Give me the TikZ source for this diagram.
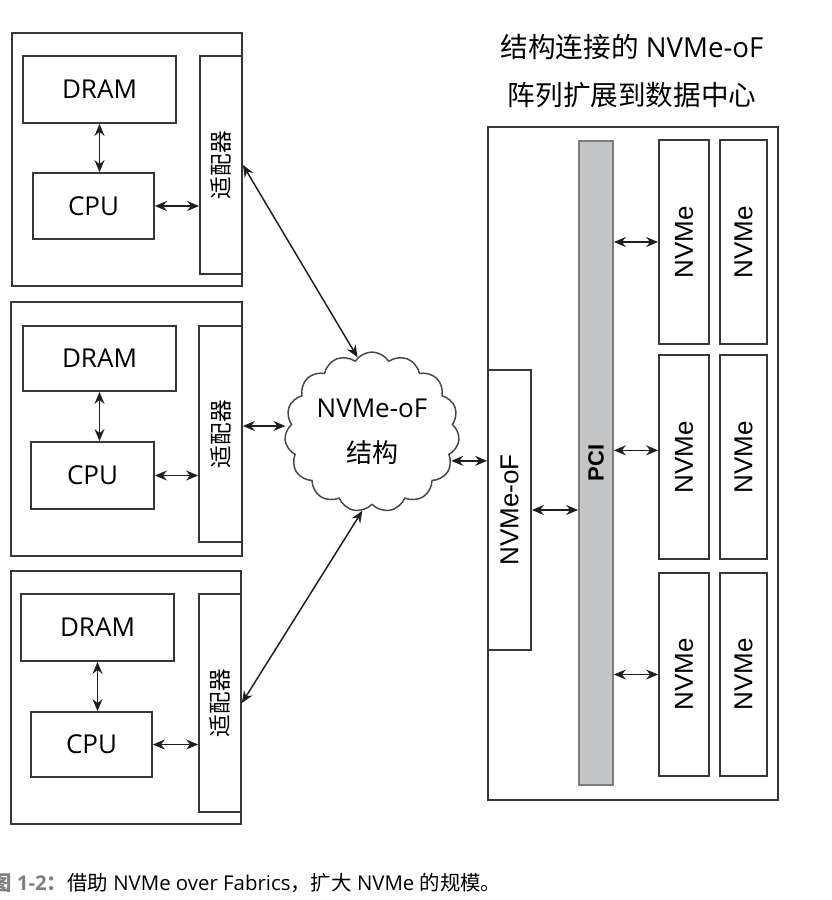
\documentclass[tikz,border=0pt]{standalone}
\usepackage{fontspec}
\setmainfont{Open Sans}
\newfontfamily\cjk{Noto Sans CJK SC}
\newfontfamily\arial{Liberation Sans}
\usetikzlibrary{arrows.meta,shapes.symbols}

\begin{document}
\begin{tikzpicture}[x=0.75pt,y=0.75pt,yscale=-1,xscale=1,
  box/.style={draw={rgb, 255:red, 55; green, 55; blue, 55 }, line width=1.35pt, fill=white, inner sep=0pt},
  wh/.style 2 args={minimum width=#1*0.75pt, minimum height=#2*0.75pt},
  link/.style={draw={rgb, 255:red, 30; green, 30; blue, 30 }, line width=1.1pt,
    {Stealth[length=9pt,width=7.5pt,inset=3pt]}-{Stealth[length=9pt,width=7.5pt,inset=3pt]}},
  lbl/.style={font=\fontsize{19.5}{22}\selectfont},
  cjklbl/.style={font=\cjk\fontsize{17}{20}\selectfont},
  nvlbl/.style={font=\arial\fontsize{19.5}{22}\selectfont}
]
\useasboundingbox (0,0) rectangle (832,900);

%Shape: Rectangle (host 1)
\node (host1) [box, wh={230}{253}] at (127,159.5) {};
\node (dram1) [box, lbl, wh={153}{67}] at (99.5,89.5) {DRAM};
\node (cpu1) [box, lbl, wh={121}{66}] at (93.5,206) {CPU};
\node (adapter1) [box, cjklbl, wh={42}{218}] at (221,165) {\rotatebox{90}{适配器}};
%Shape: Rectangle (host 2)
\node (host2) [box, wh={231}{254}] at (126.5,429) {};
\node (dram2) [box, lbl, wh={153}{65}] at (99.5,358.5) {DRAM};
\node (cpu2) [box, lbl, wh={123}{67}] at (92.5,475.5) {CPU};
\node (adapter2) [box, cjklbl, wh={43}{216}] at (220.5,434) {\rotatebox{90}{适配器}};
%Shape: Rectangle (host 3)
\node (host3) [box, wh={230}{253}] at (126,697.5) {};
\node (dram3) [box, lbl, wh={153}{67}] at (97.5,627.5) {DRAM};
\node (cpu3) [box, lbl, wh={121}{65}] at (91.5,744.5) {CPU};
\node (adapter3) [box, cjklbl, wh={42}{218}] at (220,703) {\rotatebox{90}{适配器}};

%Shape: Cloud
\node (fabric) [cloud, cloud puffs=15, cloud puff arc=115, cloud ignores aspect,
  draw={rgb, 255:red, 70; green, 70; blue, 70 }, line width=1.1pt, inner sep=0pt,
  minimum width=131pt, minimum height=120pt, align=center,
  font=\fontsize{19.5}{34}\selectfont] at (372,432) {NVMe-oF\\{\cjk 结构}};

%Shape: Rectangle (array)
\node (array) [box, wh={290}{673}] at (633,463.5) {};
\node (nvmeof) [box, nvlbl, wh={43}{280}] at (509.5,510) {\rotatebox{90}{NVMe-oF}};
\node (pci) [box, fill={rgb, 255:red, 195; green, 196; blue, 198 }, draw={rgb, 255:red, 125; green, 125; blue, 125 },
  font=\arial\bfseries\fontsize{16.5}{20}\selectfont, wh={34}{644}] at (596,463) {\rotatebox{90}{PCI}};
\node (nvme11) [box, nvlbl, wh={50}{204}] at (684,242) {\rotatebox{90}{NVMe}};
\node (nvme12) [box, nvlbl, wh={47}{204}] at (743.5,242) {\rotatebox{90}{NVMe}};
\node (nvme21) [box, nvlbl, wh={50}{204}] at (684,457) {\rotatebox{90}{NVMe}};
\node (nvme22) [box, nvlbl, wh={47}{204}] at (743.5,457) {\rotatebox{90}{NVMe}};
\node (nvme31) [box, nvlbl, wh={50}{203}] at (684,674.5) {\rotatebox{90}{NVMe}};
\node (nvme32) [box, nvlbl, wh={47}{203}] at (743.5,674.5) {\rotatebox{90}{NVMe}};

%Straight Lines
\draw [link] (dram1.south) -- (dram1.south |- cpu1.north);
\draw [link] (cpu1.east) -- (cpu1.east -| adapter1.west);
\draw [link] (dram2.south) -- (dram2.south |- cpu2.north);
\draw [link] (cpu2.east) -- (cpu2.east -| adapter2.west);
\draw [link] (dram3.south) -- (dram3.south |- cpu3.north);
\draw [link] (cpu3.east) -- (cpu3.east -| adapter3.west);
\draw [link] (adapter1.east) -- (fabric.101);
\draw [link] ([yshift=-6pt]adapter2.east) -- ([yshift=-6pt]adapter2.east -| fabric.west);
\draw [link] (adapter3.east) -- (fabric.263);
\draw [link] (fabric.-20) -- (fabric.-20 -| nvmeof.west);
\draw [link] (nvmeof.east) -- (nvmeof.east -| pci.west);
\draw [link] (pci.east |- nvme11.west) -- (nvme11.west);
\draw [link] ([yshift=-5pt]pci.east |- nvme21.west) -- ([yshift=-5pt]nvme21.west);
\draw [link] (pci.east |- nvme31.west) -- (nvme31.west);

% Text Node
\node (title) [font=\fontsize{20.7}{36}\selectfont, align=center] at (632,71) {{\cjk 结构连接的} NVMe-oF\\{\cjk 阵列扩展到数据中心}};
% Text Node
\node (caption) [anchor=west, inner sep=0pt, font=\fontsize{15.3}{20}\selectfont] at (-9,883)
  {{\color{gray}\bfseries{\cjk 图} 1-2{\cjk ：}}{\cjk 借助} NVMe over Fabrics{\cjk ，扩大} NVMe {\cjk 的规模。}};

\end{tikzpicture}
\end{document}
